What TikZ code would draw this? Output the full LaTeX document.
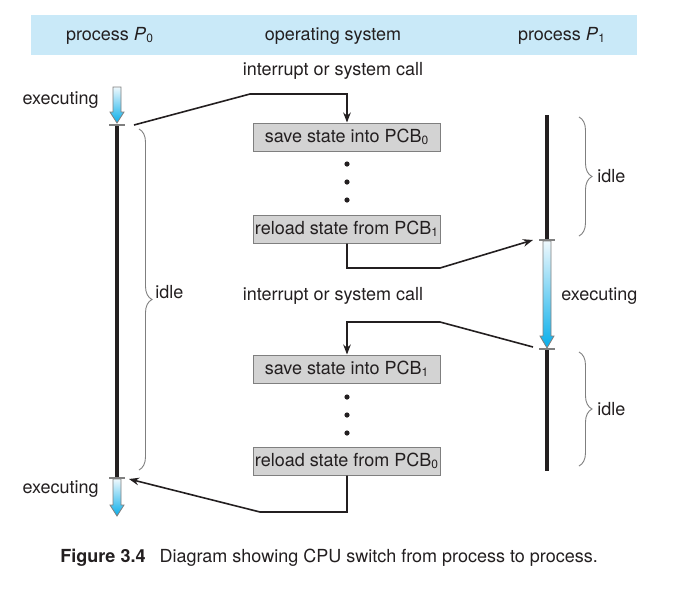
\documentclass[tikz,border=0pt]{standalone}
\usepackage{fontspec}
\setmainfont{TeX Gyre Heros}
\usetikzlibrary{arrows.meta,decorations.pathreplacing,positioning}
\definecolor{bandblue}{HTML}{C9E9F8}
\definecolor{inkdark}{HTML}{231F20}
\definecolor{boxgray}{HTML}{D3D3D3}
\definecolor{edgegray}{HTML}{7F7F7F}
\definecolor{execcyan}{HTML}{08AEEA}
\definecolor{execpale}{HTML}{EEF8FD}
\tikzset{
    txt/.style ={
        text=inkdark,
        inner sep=0pt,
        font=\fontsize{9}{11}\selectfont
    },
    pcb/.style ={
        shape=rectangle,
        draw=edgegray,
        fill=boxgray,
        line width=0.5pt,
        minimum width=93.5pt,
        minimum height=14pt,
        inner sep=0pt,
        text=inkdark,
        font=\fontsize{9}{11}\selectfont
    },
    dotnode/.style ={
        shape=circle,
        fill=inkdark,
        inner sep=0pt,
        minimum size=2.6pt
    },
    timeline/.style ={
        draw=inkdark,
        line width=2.2pt
    },
    tick/.style ={
        draw=edgegray,
        line width=0.8pt
    },
    execbar/.style ={
        draw=edgegray,
        line width=0.4pt,
        top color=execpale,
        bottom color=execcyan
    },
    conn/.style ={
        draw=inkdark,
        line width=0.8pt
    },
    curly/.style ={
        draw=edgegray,
        line width=0.45pt,
        decorate,
        decoration={brace,amplitude=6.5pt}
    }
}

\begin{document}
\begin{tikzpicture}[x=0.5pt,y=-0.5pt,>={Stealth[length=5pt,width=3.8pt]}]
    \useasboundingbox (0,0) rectangle (692,601);
    \fill[bandblue] (31,15) rectangle (637,55);
    \node[txt] (hp0) at(110,36) {process \textit{P}\textsubscript{0}};
    \node[txt] (hos) at(333,36) {operating system};
    \node[txt] (hp1) at(562,36) {process \textit{P}\textsubscript{1}};

    \node[txt] (int0) at(333,71) {interrupt or system call};
    \node[txt] (int1) at(333,296) {interrupt or system call};
    \node[txt,anchor=east] (ex0a) at(99,100) {executing};
    \node[txt,anchor=east] (ex0b) at(99,489) {executing};
    \node[txt,anchor=west] (ex1) at(561,296) {executing};
    \node[txt,anchor=west] (idle0) at(155,292) {idle};
    \node[txt,anchor=west] (idle1a) at(597,176) {idle};
    \node[txt,anchor=west] (idle1b) at(597,409) {idle};

    \node[pcb] (save0) at(347,137) {save state into PCB\textsubscript{0}};
    \node[pcb] (reload1) at(347,229) {reload state from PCB\textsubscript{1}};
    \node[pcb] (save1) at(347,369) {save state into PCB\textsubscript{1}};
    \node[pcb] (reload0) at(347,461) {reload state from PCB\textsubscript{0}};
    \node[dotnode] (d1) at(347,164) {};
    \node[dotnode] (d2) at(347,182) {};
    \node[dotnode] (d3) at(347,200) {};
    \node[dotnode] (d4) at(347,397) {};
    \node[dotnode] (d5) at(347,415) {};
    \node[dotnode] (d6) at(347,433) {};

    \coordinate (t0a) at(117,125);
    \coordinate (t0b) at(117,478);
    \coordinate (t1a) at(547,240);
    \coordinate (t1b) at(547,349);
    \coordinate (out0) at(134,125);
    \coordinate (in0) at(129,479);
    \coordinate (in1) at(533,240);
    \coordinate (out1) at(533,347);

    \draw[timeline] (t0a) -- (t0b);
    \draw[timeline] (547,115) -- (t1a);
    \draw[timeline] (t1b) -- (547,471);
    \shade[execbar] (113,87) -- (121,87) -- (121,112) -- (124,112) -- (117,123) -- (110,112) -- (113,112) -- cycle;
    \shade[execbar] (113,479) -- (121,479) -- (121,505) -- (124,505) -- (117,516) -- (110,505) -- (113,505) -- cycle;
    \shade[execbar] (543,241) -- (551,241) -- (551,336) -- (554,336) -- (547,348) -- (540,336) -- (543,336) -- cycle;
    \draw[tick] ([xshift=-4pt]t0a) -- ([xshift=4pt]t0a);
    \draw[tick] ([xshift=-4pt]t0b) -- ([xshift=4pt]t0b);
    \draw[tick] ([xshift=-4pt]t1a) -- ([xshift=4pt]t1a);
    \draw[tick] ([xshift=-4pt]t1b) -- ([xshift=4pt]t1b);

    \draw[curly] (139,129) -- (139,470);
    \draw[curly] (579,117) -- (579,236);
    \draw[curly] (579,352) -- (579,466);

    \draw[conn,->] (out0) -- (250,94) -| (save0.north);
    \draw[conn,->] (reload1.south) |- (440,268) -- (in1);
    \draw[conn,->] (out1) -- (440,322) -| (save1.north);
    \draw[conn,->] (reload0.south) |- (260,512) -- (in0);

    \node[txt,anchor=west] (cap) at(60,558) {\textbf{Figure 3.4}\hspace{7pt}Diagram showing CPU switch from process to process.};
\end{tikzpicture}
\end{document}
